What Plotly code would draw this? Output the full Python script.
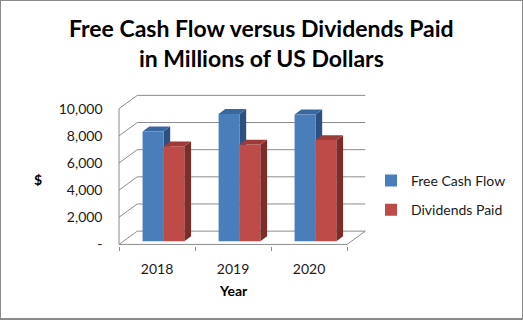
import plotly.graph_objects as go

years = ["2018", "2019", "2020"]
free_cash_flow = [8080, 9370, 9330]
dividends_paid = [6990, 7120, 7450]
y_ticks = [0, 2000, 4000, 6000, 8000, 10000]
y_ticktext = ["-", "2,000", "4,000", "6,000", "8,000", "10,000"]

FONT = "Lato"
W, H = 523, 325
DX, DY = 0.24, 980          # back-wall depth (data units)
BDX, BDY = 0.088, 360       # bar depth
LIFT = 240                  # bars stand mid-floor
BW = 0.275
series = [
    dict(name="Free Cash Flow", vals=free_cash_flow, off=-0.19,
         front="#4A7EBB", top="#3A679E", side="#2C5080", layer="below"),
    dict(name="Dividends Paid", vals=dividends_paid, off=0.085,
         front="#BE4B48", top="#9E3B38", side="#7E2B29", layer="above"),
]

xs = list(range(len(years)))
fig = go.Figure()
shapes = []
grid = dict(color="#8C8C8C", width=1)
x0, x1 = -0.5, len(years) - 0.5
# back wall gridlines + left wall diagonals
for t in y_ticks:
    shapes.append(dict(type="line", xref="x", yref="y", x0=x0 + DX, x1=x1 + DX,
                       y0=t + DY, y1=t + DY, line=grid, layer="below"))
    shapes.append(dict(type="line", xref="x", yref="y", x0=x0, x1=x0 + DX,
                       y0=t, y1=t + DY, line=grid, layer="below"))
# floor front + right edges, front vertical axis
shapes.append(dict(type="line", xref="x", yref="y", x0=x0, x1=x1, y0=0, y1=0, line=grid, layer="below"))
shapes.append(dict(type="line", xref="x", yref="y", x0=x1, x1=x1 + DX, y0=0, y1=DY, line=grid, layer="below"))
shapes.append(dict(type="line", xref="x", yref="y", x0=x0, x1=x0, y0=0, y1=y_ticks[-1], line=grid, layer="below"))

for s in series:
    fig.add_trace(go.Bar(x=xs, y=s["vals"], base=[LIFT] * len(xs), offset=s["off"], width=BW,
                         name=s["name"], marker=dict(color=s["front"], line=dict(width=0)),
                         legendgroup=s["name"]))
    for xi, v in zip(xs, s["vals"]):
        l = xi + s["off"]
        r = l + BW
        top = LIFT + v
        side = f"M {r},{LIFT} L {r+BDX},{LIFT+BDY} L {r+BDX},{top+BDY} L {r},{top} Z"
        topf = f"M {l},{top} L {l+BDX},{top+BDY} L {r+BDX},{top+BDY} L {r},{top} Z"
        shapes.append(dict(type="path", xref="x", yref="y", path=side, fillcolor=s["side"],
                           line=dict(width=0), layer=s["layer"]))
        shapes.append(dict(type="path", xref="x", yref="y", path=topf, fillcolor=s["top"],
                           line=dict(width=0), layer=s["layer"]))

shapes.append(dict(type="rect", xref="paper", yref="paper", x0=0, x1=1, y0=0, y1=1,
                   line=dict(color="#8A8A8A", width=2)))

fig.update_layout(
    width=W, height=H, margin=dict(l=0, r=0, t=0, b=0),
    paper_bgcolor="white", plot_bgcolor="rgba(0,0,0,0)",
    font=dict(family=FONT, size=14, color="#1a1a1a"),
    barmode="overlay",
    xaxis=dict(domain=[117.5 / W, 366.8 / W], range=[-0.52, 2.76], tickvals=xs, ticktext=years,
               showgrid=False, zeroline=False, showline=False, ticks="",
               minor=dict(tickvals=[-0.5, 0.5, 1.5, 2.5], ticks="outside", ticklen=4,
                          tickcolor="#8C8C8C", showgrid=False),
               ticklabelstandoff=13, fixedrange=True),
    yaxis=dict(domain=[(H - 251.1) / H, (H - 95.5) / H], range=[-150, 11100],
               tickvals=y_ticks, ticktext=y_ticktext, showgrid=False, zeroline=False,
               showline=False, ticks="", ticklabelstandoff=14, fixedrange=True),
    showlegend=True,
    legend=dict(x=371 / W, xanchor="left", y=(H - 199) / H, yanchor="middle",
                tracegroupgap=8, font=dict(family=FONT, size=14, color="#1a1a1a"),
                bgcolor="rgba(0,0,0,0)", itemwidth=30),
    shapes=shapes,
    annotations=[
        dict(text="<b>Free Cash Flow versus Dividends Paid<br>in Millions of US Dollars</b>",
             x=0.5, y=(H - 44) / H, xref="paper", yref="paper", xanchor="center",
             yanchor="middle", showarrow=False,
             font=dict(family=FONT, size=23, color="#000")),
        dict(text="<b>$</b>", x=38 / W, y=(H - 183) / H, xref="paper", yref="paper",
             xanchor="center", yanchor="middle", showarrow=False,
             font=dict(family=FONT, size=14, color="#000")),
        dict(text="<b>Year</b>", x=233 / W, y=(H - 296) / H, xref="paper", yref="paper",
             xanchor="center", yanchor="middle", showarrow=False,
             font=dict(family=FONT, size=14, color="#000")),
    ],
)

fig.write_html("out.html")
